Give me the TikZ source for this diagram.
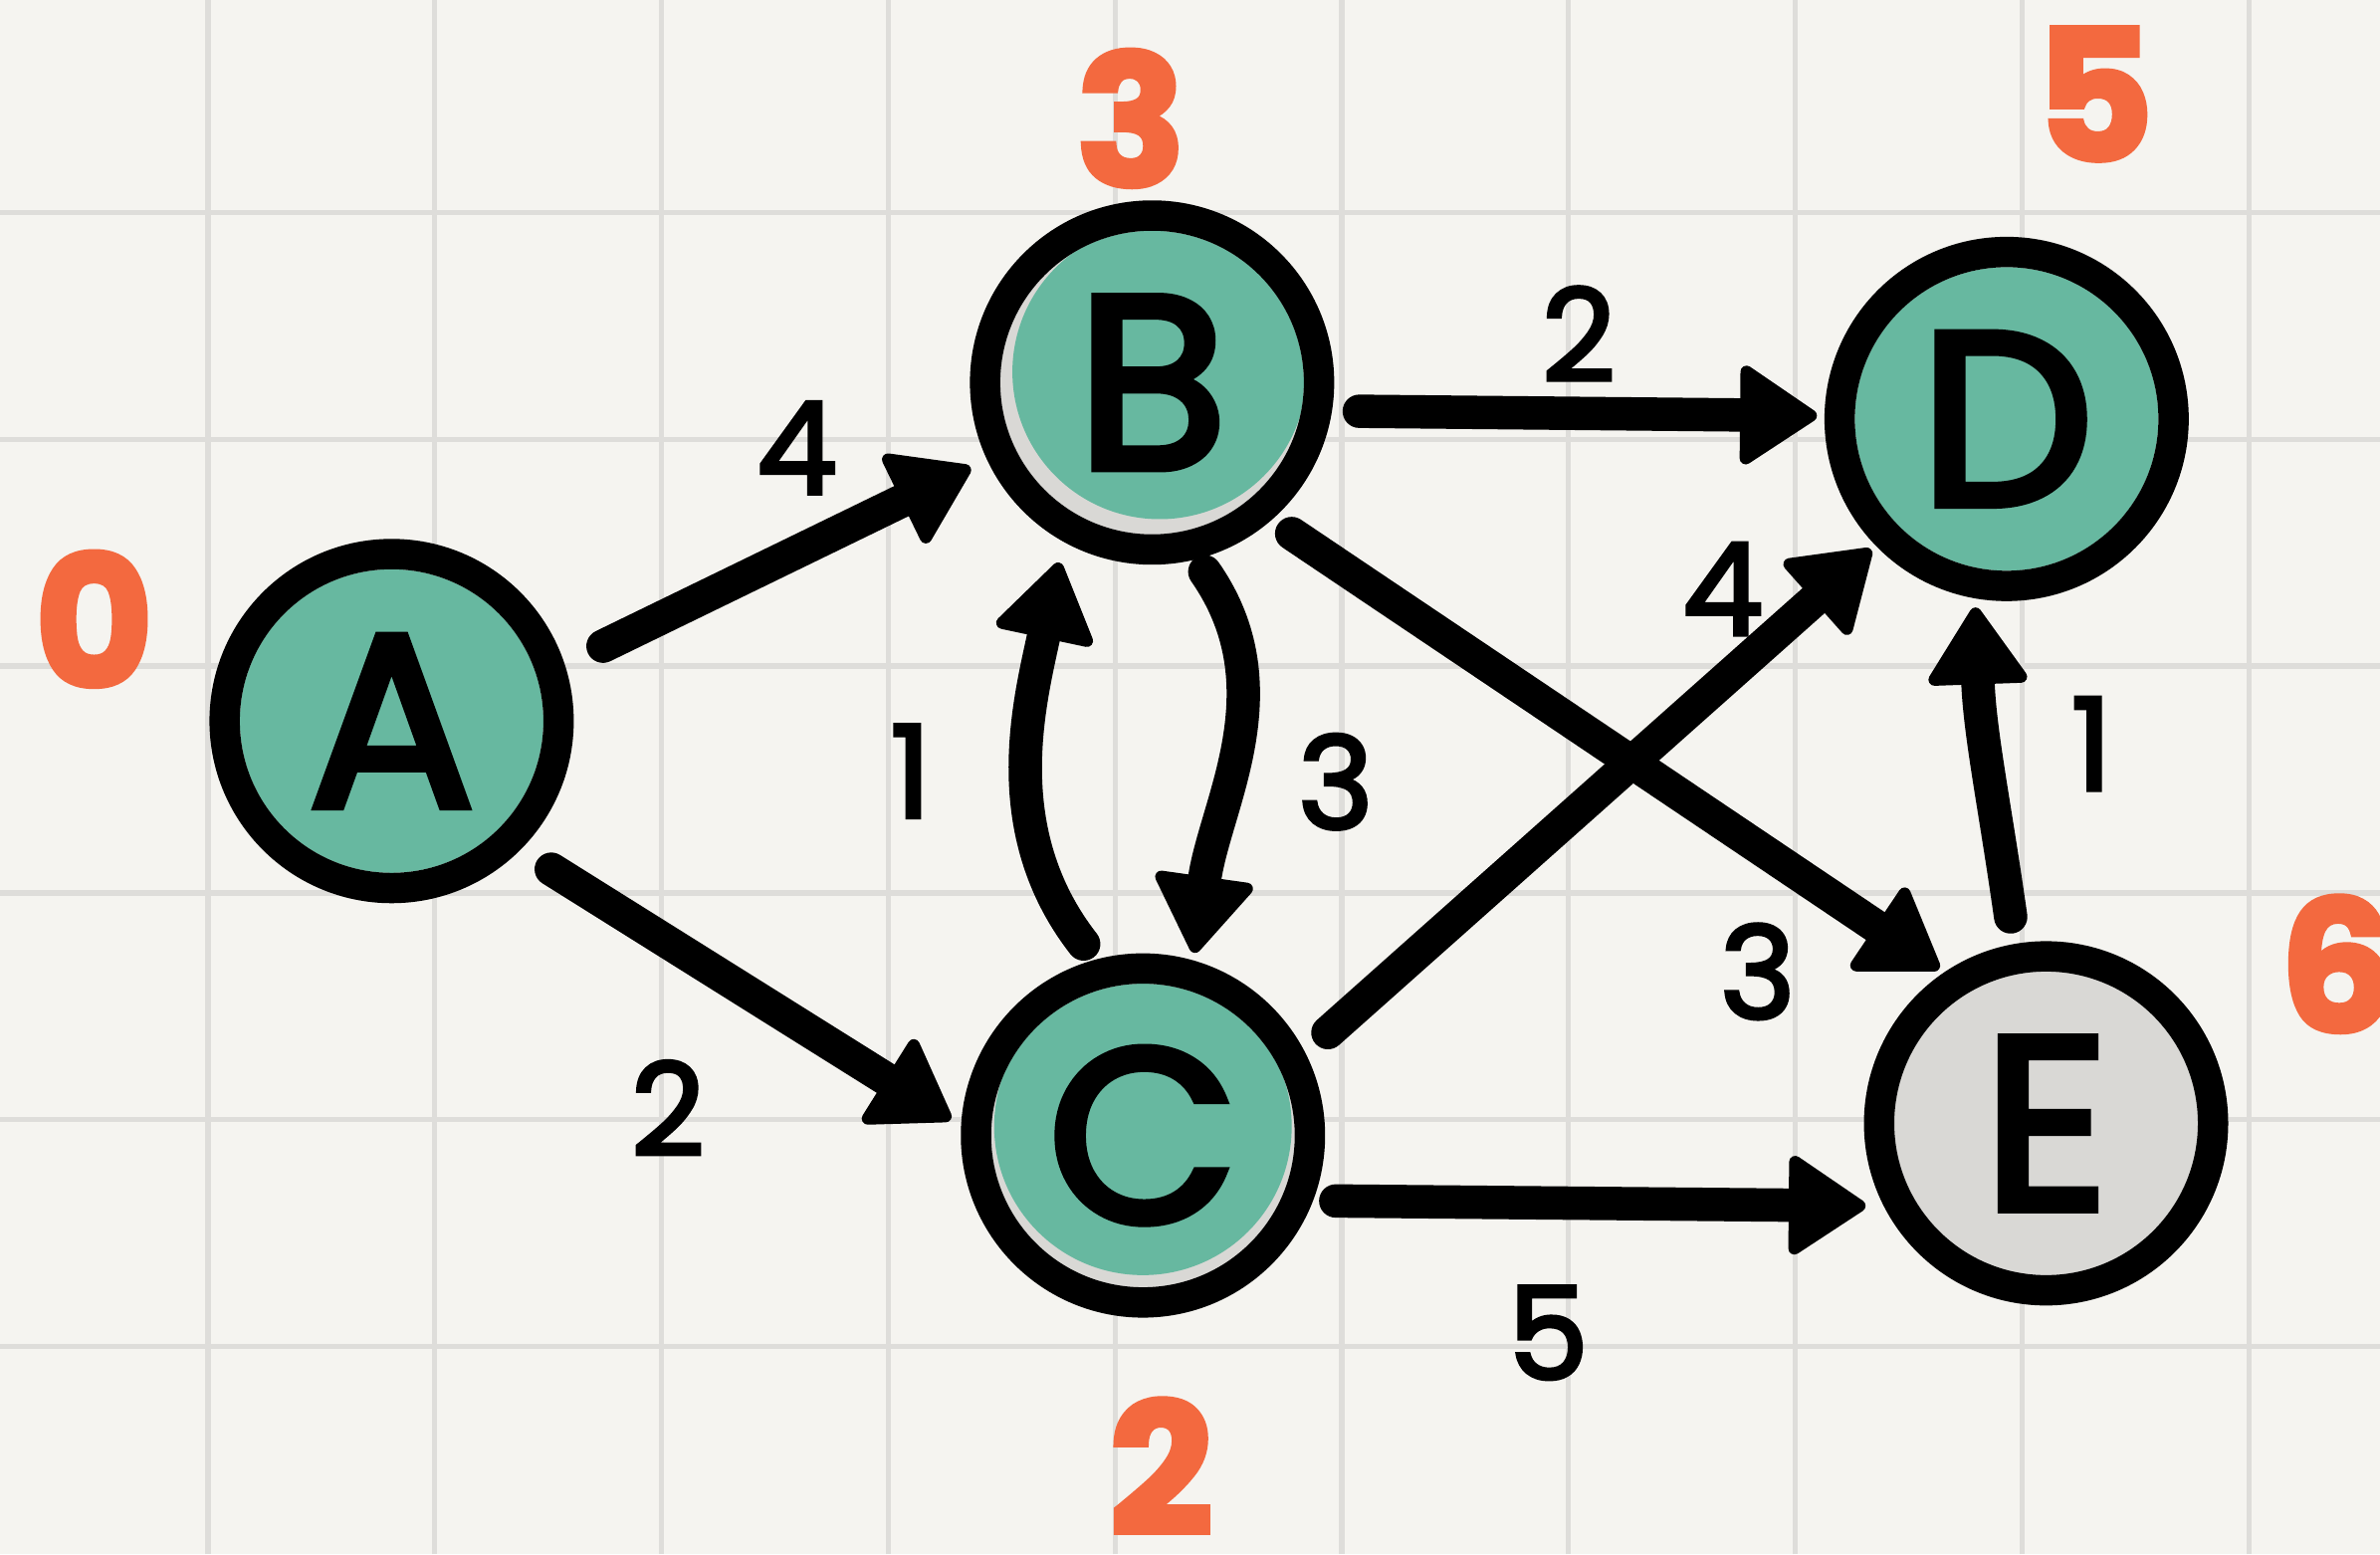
\documentclass[tikz,border=0pt]{standalone}
\usepackage{fontspec}
\setmainfont{Poppins}
\newfontfamily\handfont{Poppins}[FakeBold=3.5]
\newfontfamily\labelfont{Poppins}[FakeBold=3]
\newfontfamily\heavyfont{Poppins}[BoldFeatures={FakeBold=3}]
\usetikzlibrary{arrows.meta}

\definecolor{paper}{HTML}{F5F4F0}
\definecolor{gridline}{HTML}{DEDDDA}
\definecolor{nodeteal}{HTML}{67B8A0}
\definecolor{nodegrey}{HTML}{D9D8D5}
\definecolor{weight}{HTML}{F3693F}

\tikzset{
  vertex/.style={circle, draw=black, line width=2mm, minimum size=22mm,
    inner sep=0pt, font=\fontsize{46}{46}\selectfont\handfont},
  link/.style={line width=2.2mm, line cap=round,
    -{Triangle[length=5.4mm, width=7mm, round, line width=0.8mm]}},
  wlabel/.style={inner sep=0pt, font=\fontsize{24}{24}\selectfont\labelfont},
  dist/.style={inner sep=0pt, text=weight, font=\fontsize{34}{34}\selectfont\heavyfont\bfseries},
}

\begin{document}
\begin{tikzpicture}[x=0.1mm, y=0.1mm]
  % paper and squared grid
  \fill[paper] (0,0) rectangle (1568,1024);
  \useasboundingbox (0,0) rectangle (1568,1024);
  \foreach \k in {0,...,9}
    \draw[gridline, line width=0.35mm] ({137+149.4*\k},0) -- ({137+149.4*\k},1024);
  \foreach \k in {0,...,5}
    \draw[gridline, line width=0.35mm] (0,{137+149.4*\k}) -- (1568,{137+149.4*\k});

  % vertex positions
  \coordinate (pA) at (258,549);
  \coordinate (pB) at (759,772);
  \coordinate (pC) at (753,276);
  \coordinate (pD) at (1322,748);
  \coordinate (pE) at (1348,284);

  % hand-coloured fills, leaving a pale crescent where the marker missed
  \fill[nodeteal] (pA) circle[radius=100];
  \fill[nodegrey] (pB) circle[radius=100];
  \begin{scope}
    \clip (pB) circle[radius=100];
    \fill[nodeteal] ([shift={(5,7)}]pB) circle[radius=97];
  \end{scope}
  \fill[nodegrey] (pC) circle[radius=100];
  \begin{scope}
    \clip (pC) circle[radius=100];
    \fill[nodeteal] ([shift={(0,6)}]pC) circle[radius=98];
  \end{scope}
  \fill[nodeteal] (pD) circle[radius=100];
  \fill[nodegrey] (pE) circle[radius=100];

  % vertices
  \node[vertex] (A) at (pA) {A};
  \node[vertex] (B) at (pB) {B};
  \node[vertex] (C) at (pC) {C};
  \node[vertex] (D) at (pD) {D};
  \node[vertex] (E) at (pE) {E};

  % weighted edges
  \draw[link, shorten <=2.8mm, shorten >=1.2mm] (A.18.6) -- (B.205.8);
  \draw[link, shorten <=2.4mm, shorten >=0.8mm] (A.-45.8) -- (C.177);
  \draw[link, shorten <=1.3mm, shorten >=1.4mm] (C.105.3) to[out=128, in=258] (B.241);
  \draw[link, shorten <=1.0mm, shorten >=0.5mm] (B.-76) to[out=-55, in=82] (C.74.8);
  \draw[link, shorten <=1.8mm, shorten >=0.5mm] (B.-9.6) -- (D.179.5);
  \draw[link, shorten <=1.6mm, shorten >=0.4mm] (B.-49.2) -- (E.124.2);
  \draw[link, shorten <=2.0mm, shorten >=0.4mm] (C.27.7) -- (D.224);
  \draw[link, shorten <=1.5mm, shorten >=1.2mm] (C.-21.8) -- (E.207.3);
  \draw[link, shorten <=1.8mm, shorten >=0.6mm] (E.100.9) to[out=98, in=-88] (D.260.7);

  % edge weights
  \node[wlabel] (wab) at (525,729) {4};
  \node[wlabel] (wac) at (440,294) {2};
  \node[wlabel] (wcb) at (600,516) {1};
  \node[wlabel] (wbc) at (880,509) {3};
  \node[wlabel] (wbd) at (1040,804) {2};
  \node[wlabel] (wcd) at (1135,636) {4};
  \node[wlabel] (wbe) at (1158,384) {3};
  \node[wlabel] (wed) at (1378,534) {1};
  \node[wlabel] (wce) at (1020,146) {5};

  % shortest distances
  \node[dist] (dA) at (62,616) {0};
  \node[dist] (dB) at (745,946) {3};
  \node[dist] (dD) at (1380,962) {5};
  \node[dist] (dE) at (1540,389) {6};
  \node[dist] (dC) at (765,58) {2};
\end{tikzpicture}
\end{document}
